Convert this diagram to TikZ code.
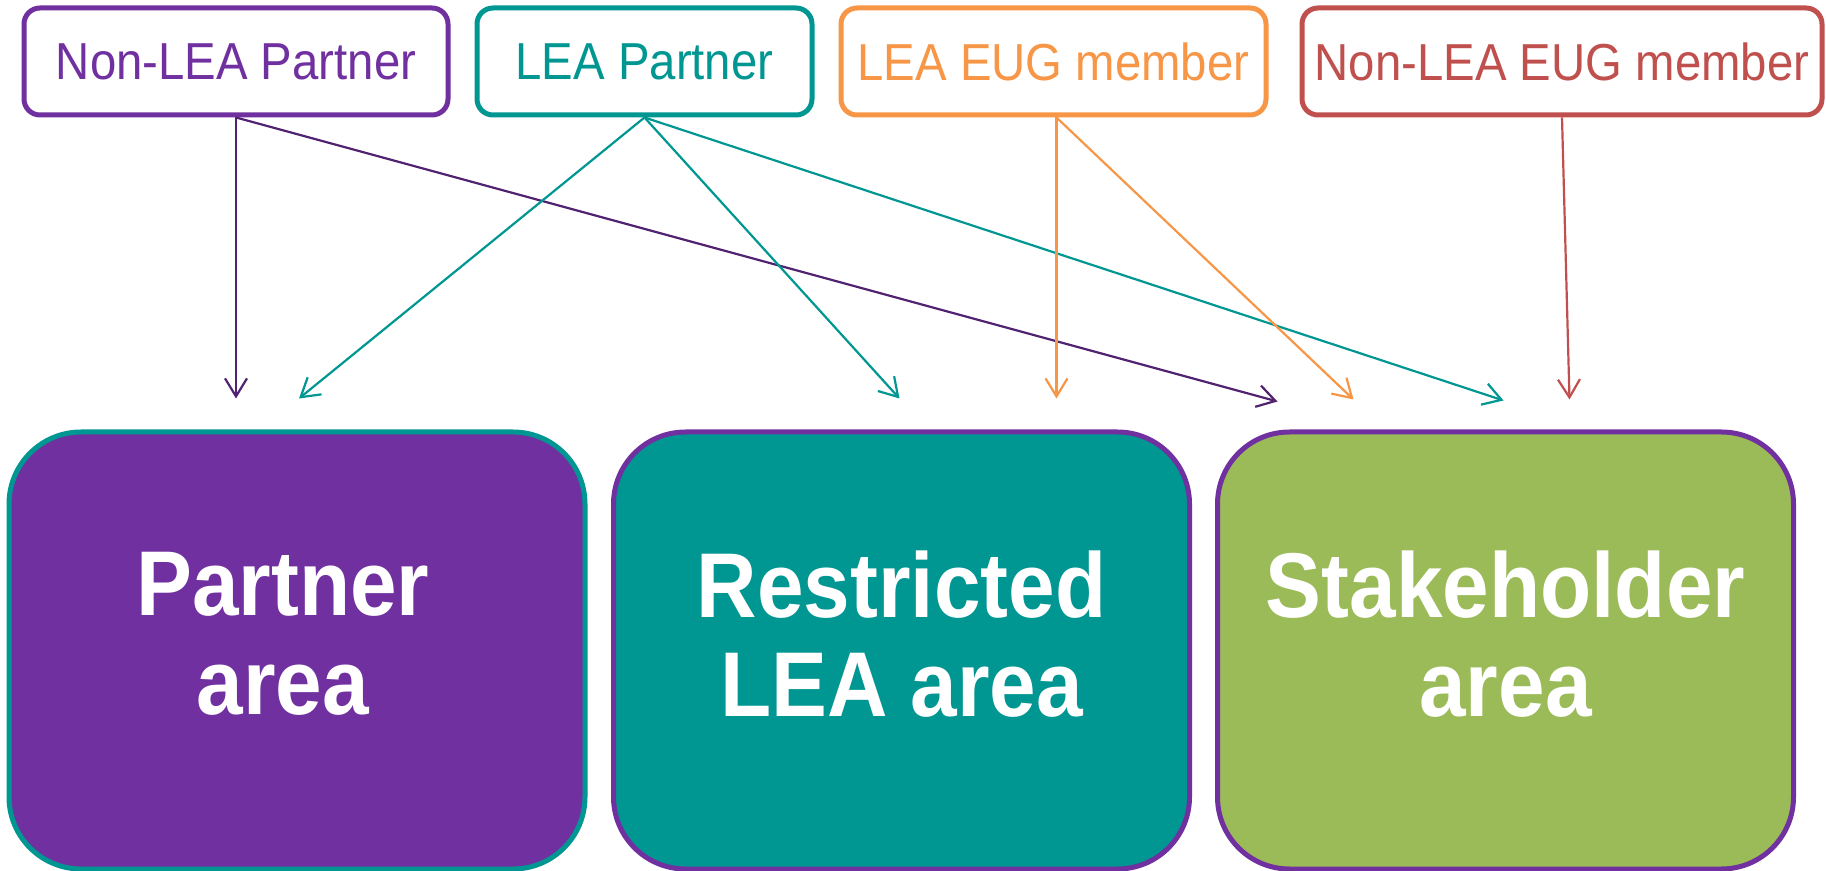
\documentclass[tikz,border=0pt]{standalone}
\usepackage{fontspec}
\setmainfont[FakeStretch=0.91]{Liberation Sans}
\usepackage{tikz}
\usetikzlibrary{arrows.meta,positioning,calc}
\definecolor{leapurple}{RGB}{112,48,160}
\definecolor{leateal}{RGB}{0,150,146}
\definecolor{eugorange}{RGB}{247,150,70}
\definecolor{eugred}{RGB}{192,80,77}
\definecolor{areagreen}{RGB}{155,187,89}
\definecolor{linkpurple}{RGB}{80,34,112}

\begin{document}
\begin{tikzpicture}[x=0.5pt,y=-0.5pt,
    role/.style={draw=#1,text=#1,fill=white,rounded corners=8pt,line width=2.5pt,minimum height=53.5pt,inner sep=0pt,
        font=\fontsize{26}{30}\selectfont},
    area/.style={draw,rounded corners=36pt,line width=2.5pt,minimum width=288pt,minimum height=218.5pt,inner sep=0pt,
        text=white,align=center,text depth=17pt,font=\fontsize{46}{49.5}\selectfont\bfseries},
    link/.style={line width=1.1pt,-{Straight Barb[length=9pt,width=11pt]}}]
    \useasboundingbox (0,0) rectangle (1826,871);
    \pgfmathsetmacro{\roley}{61.5}
    \pgfmathsetmacro{\areay}{650.5}

    % draw user roles
    \node[role=leapurple,minimum width=212pt] (nlp) at (236,\roley) {Non-LEA Partner};
    \node[role=leateal,minimum width=167.5pt] (lp) at (644.5,\roley) {LEA Partner};
    \node[role=eugorange,minimum width=212.5pt] (leug) at (1053.5,\roley) {LEA EUG member};
    \node[role=eugred,minimum width=260pt] (nleug) at (1562,\roley) {Non-LEA EUG member};

    % draw areas
    \node[area,draw=leateal,fill=leapurple] (pa) at (297,\areay) {Partner\hspace*{14pt}\\area\hspace*{14pt}};
    \node[area,draw=leapurple,fill=leateal] (ra) at (901.5,\areay) {Restricted\\LEA area};
    \node[area,draw=leapurple,fill=areagreen] (sa) at (1505.5,\areay) {Stakeholder\\area};

    % draw access arrows
    \draw[link,linkpurple] (nlp.south) -- ($(pa.north)+(-30.5pt,15.5pt)$);
    \draw[link,linkpurple] (nlp.south) -- ($(sa.north)+(-114pt,14pt)$);

    \draw[link,leateal] (lp.south) -- ($(pa.north)+(1pt,15.5pt)$);
    \draw[link,leateal] (lp.south) -- ($(ra.north)+(-1pt,15.5pt)$);
    \draw[link,leateal] (lp.south) -- ($(sa.north)+(-1pt,14.5pt)$);

    \draw[link,eugorange] ([xshift=1.5pt]leug.south) -- ($(ra.north)+(77.5pt,15.5pt)$);
    \draw[link,eugorange] ([xshift=1.5pt]leug.south) -- ($(sa.north)+(-76pt,15pt)$);

    \draw[link,eugred] (nleug.south) -- ($(sa.north)+(32pt,15pt)$);
\end{tikzpicture}
\end{document}
